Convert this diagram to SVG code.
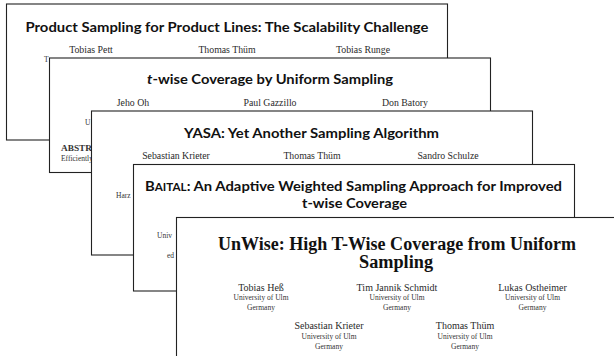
<svg xmlns="http://www.w3.org/2000/svg" width="614" height="356" viewBox="0 0 614 356">
<style>
.card{fill:#fff;stroke:#222;stroke-width:1.1}
.t{font-family:Lato,"Open Sans",sans-serif;font-weight:bold;font-size:14px;fill:#111;text-anchor:middle}
.ut{font-family:"Liberation Serif",serif;font-weight:bold;font-size:18px;fill:#111;text-anchor:middle}
.a{font-family:"Liberation Serif",serif;font-size:9.8px;fill:#2a2a2a;text-anchor:middle}
.a5{font-family:"Liberation Serif",serif;font-size:10px;fill:#2a2a2a;text-anchor:middle}
.f{font-family:"Liberation Serif",serif;font-size:7.5px;fill:#333;text-anchor:middle}
.s{font-family:"Liberation Serif",serif;font-size:7.5px;fill:#333}
</style>
<rect width="614" height="356" fill="#fff"/>
<g id="card1">
<rect class="card" x="6.5" y="4" width="441" height="136"/>
<text class="t" x="227" y="31.5" textLength="403" lengthAdjust="spacingAndGlyphs">Product Sampling for Product Lines: The Scalability Challenge</text>
<text class="a" x="91" y="53">Tobias Pett</text>
<text class="a" x="227" y="53">Thomas Thüm</text>
<text class="a" x="363" y="53">Tobias Runge</text>
<text class="s" x="44" y="62">T</text>
</g>
<g id="card2">
<rect class="card" x="49.5" y="58" width="441" height="114.5"/>
<text class="t" x="270" y="84" textLength="246" lengthAdjust="spacingAndGlyphs"><tspan font-style="italic">t</tspan>-wise Coverage by Uniform Sampling</text>
<text class="a" x="133" y="106">Jeho Oh</text>
<text class="a" x="270" y="106">Paul Gazzillo</text>
<text class="a" x="405" y="106">Don Batory</text>
<text class="s" x="85" y="125">U</text>
<text class="s" x="61" y="151" font-weight="bold" font-size="8.5" textLength="31" lengthAdjust="spacingAndGlyphs">ABSTR</text>
<text class="s" x="61" y="161" font-size="6.5">Efficiently</text>
</g>
<g id="card3">
<rect class="card" x="91.5" y="111" width="441" height="144"/>
<text class="t" x="311.5" y="137.5" textLength="255" lengthAdjust="spacingAndGlyphs">YASA: Yet Another Sampling Algorithm</text>
<text class="a" x="176" y="159">Sebastian Krieter</text>
<text class="a" x="312" y="159">Thomas Thüm</text>
<text class="a" x="448" y="159">Sandro Schulze</text>
<text class="s" x="116" y="198" font-size="8">Harz</text>
</g>
<g id="card4">
<rect class="card" x="133.5" y="164.5" width="441" height="126.5"/>
<text class="t" x="353.5" y="190.5" textLength="417" lengthAdjust="spacingAndGlyphs">B<tspan font-size="11">AITAL</tspan>: An Adaptive Weighted Sampling Approach for Improved</text>
<text class="t" x="354.5" y="207.5" textLength="105" lengthAdjust="spacingAndGlyphs">t-wise Coverage</text>
<text class="s" x="157" y="238">Univ</text>
<text class="s" x="167" y="258">ed</text>
</g>
<g id="card5">
<rect class="card" x="176.5" y="217.5" width="441" height="160"/>
<text class="ut" x="397" y="249.5" textLength="358" lengthAdjust="spacingAndGlyphs">UnWise: High T-Wise Coverage from Uniform</text>
<text class="ut" x="396" y="268" textLength="74" lengthAdjust="spacingAndGlyphs">Sampling</text>
<text class="a5" x="261" y="290.5">Tobias Heß</text>
<text class="f" x="261" y="300">University of Ulm</text>
<text class="f" x="261" y="310">Germany</text>
<text class="a5" x="397" y="290.5">Tim Jannik Schmidt</text>
<text class="f" x="397" y="300">University of Ulm</text>
<text class="f" x="397" y="310">Germany</text>
<text class="a5" x="532.5" y="290.5">Lukas Ostheimer</text>
<text class="f" x="532.5" y="300">University of Ulm</text>
<text class="f" x="532.5" y="310">Germany</text>
<text class="a5" x="329" y="329">Sebastian Krieter</text>
<text class="f" x="329" y="339">University of Ulm</text>
<text class="f" x="329" y="349">Germany</text>
<text class="a5" x="465" y="329">Thomas Thüm</text>
<text class="f" x="465" y="339">University of Ulm</text>
<text class="f" x="465" y="349">Germany</text>
</g>
</svg>
